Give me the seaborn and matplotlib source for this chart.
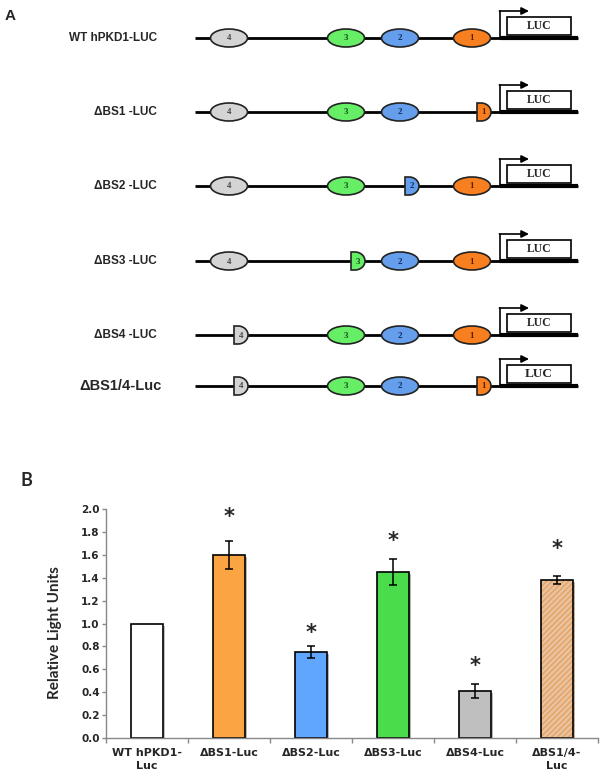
"""
Promoter deletion constructs (A) and luciferase reporter activity (B)
"""
import matplotlib
matplotlib.use('Agg')
import matplotlib.pyplot as plt
import matplotlib.patheffects as pe
from matplotlib.patches import Ellipse, Rectangle, Polygon
import seaborn as sns
import numpy as np
import pandas as pd

# ---- panel A: constructs ----
construct_names = ['WT hPKD1-LUC', '\u0394BS1 -LUC', '\u0394BS2 -LUC',
                   '\u0394BS3 -LUC', '\u0394BS4 -LUC', '\u0394BS1/4-Luc']
deleted_sites = [[], [1], [2], [3], [4], [1, 4]]
site_ids = [4, 3, 2, 1]
site_fill = {4: '#D4D4D4', 3: '#66EE66', 2: '#659EEA', 1: '#F77F1F'}
site_text = {4: '#444444', 3: '#145214', 2: '#10306E', 1: '#5A1E00'}

# ---- panel B: relative light units ----
bar_labels = ['WT hPKD1-\nLuc', '\u0394BS1-Luc', '\u0394BS2-Luc',
              '\u0394BS3-Luc', '\u0394BS4-Luc', '\u0394BS1/4-\nLuc']
rlu = [1.00, 1.60, 0.75, 1.45, 0.41, 1.38]
rlu_err = [0.0, 0.12, 0.05, 0.11, 0.065, 0.035]
star_y = [None, 1.93, 0.92, 1.72, 0.63, 1.65]
bar_colors = ['#FFFFFF', '#FBA443', '#60A6FF', '#4BDC4B', '#BFBFBF', '#EAC29E']

sns.set_style('ticks')
plt.rcParams['font.family'] = ['DejaVu Sans']
plt.rcParams['hatch.linewidth'] = 1.0

fig = plt.figure(figsize=(6.02, 7.81), dpi=100)

# diagram axes in pixel units
ax_a = fig.add_axes([0, 0, 1, 1])
ax_a.set_xlim(0, 602)
ax_a.set_ylim(781, 0)
ax_a.axis('off')

row_y = [38, 112, 186, 261, 335, 386]
site_x = {4: 229, 3: 346, 2: 400, 1: 472}
ell_w, ell_h = 37, 18


def draw_site(ax, sid, x, y, truncated):
    if truncated:
        # D-shaped remnant: flat left side, rounded right side
        x0 = x + 5
        s = 4
        t = np.linspace(-np.pi / 2, np.pi / 2, 40)
        arc = np.column_stack([x0 + s + 10 * np.cos(t), y + ell_h / 2 * np.sin(t)])
        pts = np.vstack([[x0, y - ell_h / 2], arc, [x0, y + ell_h / 2]])
        ax.add_patch(Polygon(pts, closed=True, facecolor=site_fill[sid],
                             edgecolor='#222222', lw=1.2, zorder=3))
        tx = x0 + 7
    else:
        ax.add_patch(Ellipse((x, y), ell_w, ell_h, facecolor=site_fill[sid],
                             edgecolor='#222222', lw=1.2, zorder=3))
        tx = x
    ax.text(tx, y + 0.5, str(sid), ha='center', va='center', fontsize=6.5,
            family='Liberation Serif', weight='bold', color=site_text[sid], zorder=4)


for i, (name, y) in enumerate(zip(construct_names, row_y)):
    last = i == len(construct_names) - 1
    ax_a.text(157 if not last else 162, y, name, ha='right', va='center',
              fontsize=8.5 if not last else 10.5, weight='bold',
              family='Liberation Sans')
    ax_a.plot([195, 578], [y, y], color='black', lw=2, zorder=1,
              solid_capstyle='butt')
    ax_a.plot([500, 578], [y, y], color='black', lw=3, zorder=1,
              solid_capstyle='butt')
    for sid in site_ids:
        draw_site(ax_a, sid, site_x[sid], y, sid in deleted_sites[i])
    # transcription start arrow
    ax_a.plot([500, 500], [y, y - 27], color='black', lw=1.2, zorder=2)
    ax_a.annotate('', xy=(529, y - 27), xytext=(499.4, y - 27),
                  arrowprops=dict(arrowstyle='-|>', lw=1.2, color='black',
                                  mutation_scale=11, shrinkA=0, shrinkB=0))
    # reporter box
    ax_a.add_patch(Rectangle((507, y - 21), 64, 18, facecolor='white',
                             edgecolor='black', lw=1.2, zorder=3))
    ax_a.text(539, y - 12, 'LUC', ha='center', va='center',
              fontsize=8.5 if not last else 9.5,
              family='Liberation Serif', weight='bold', zorder=4)

ax_a.text(5, 16, 'A', ha='left', va='center', fontsize=11, weight='bold',
          family='Liberation Sans')
ax_a.text(20, 480, 'B', ha='left', va='center', fontsize=13, weight='bold',
          family='Lato')

# ---- bar chart ----
ax_b = fig.add_axes([106 / 602, (781 - 738) / 781, 492 / 602, 229 / 781])
ax_b.set_facecolor('none')

df = pd.DataFrame({'construct': bar_labels, 'rlu': rlu})
sns.barplot(data=df, x='construct', y='rlu', hue='construct', palette=bar_colors,
            legend=False, width=0.4, saturation=1, edgecolor='black',
            linewidth=1.2, ax=ax_b)

for p in ax_b.patches:
    p.set_path_effects([pe.SimplePatchShadow(offset=(1.5, -1.5), alpha=0.35),
                        pe.Normal()])

# hatched double deletion bar
hp = ax_b.patches[5]
hp.set_hatch('//////')
hp.set_edgecolor('#E4A264')
hp.set_linewidth(0)
ax_b.bar(5, rlu[5], width=0.4, fill=False, edgecolor='black', linewidth=1.2)

xpos = np.arange(len(bar_labels))
has_err = np.array(rlu_err) > 0
ax_b.errorbar(xpos[has_err], np.array(rlu)[has_err], yerr=np.array(rlu_err)[has_err],
              fmt='none', ecolor='black', elinewidth=1.1, capsize=3, capthick=1.1)

for x, sy in zip(xpos, star_y):
    if sy is not None:
        ax_b.text(x, sy, '*', ha='center', va='center', fontsize=15,
                  weight='bold', family='DejaVu Sans')

ax_b.set_xlim(-0.5, 5.5)
ax_b.set_ylim(0, 2.0)
ax_b.set_yticks(np.arange(0, 2.01, 0.2))
ax_b.set_yticklabels([f'{v:.1f}' for v in np.arange(0, 2.01, 0.2)],
                     fontsize=7.5, weight='bold')
ax_b.set_xticks(xpos)
ax_b.set_xticklabels(bar_labels, fontsize=8, weight='bold', linespacing=1.4)
ax_b.set_xticks(np.arange(-0.5, 5.6, 1.0), minor=True)
ax_b.tick_params(axis='x', which='major', length=0, pad=7)
ax_b.tick_params(axis='x', which='minor', length=3.5, width=1, color='#888888')
ax_b.tick_params(axis='y', length=3, width=1, color='#888888', pad=1.5)
ax_b.set_xlabel('')
ax_b.set_ylabel('Relative Light Units', fontsize=11, weight='bold', family='Lato')
ax_b.yaxis.set_label_coords(-0.09, 0.46)

sns.despine(ax=ax_b)
for side in ['left', 'bottom']:
    ax_b.spines[side].set_color('#888888')
    ax_b.spines[side].set_linewidth(1)

plt.savefig('out.png', dpi=100)
plt.close()
